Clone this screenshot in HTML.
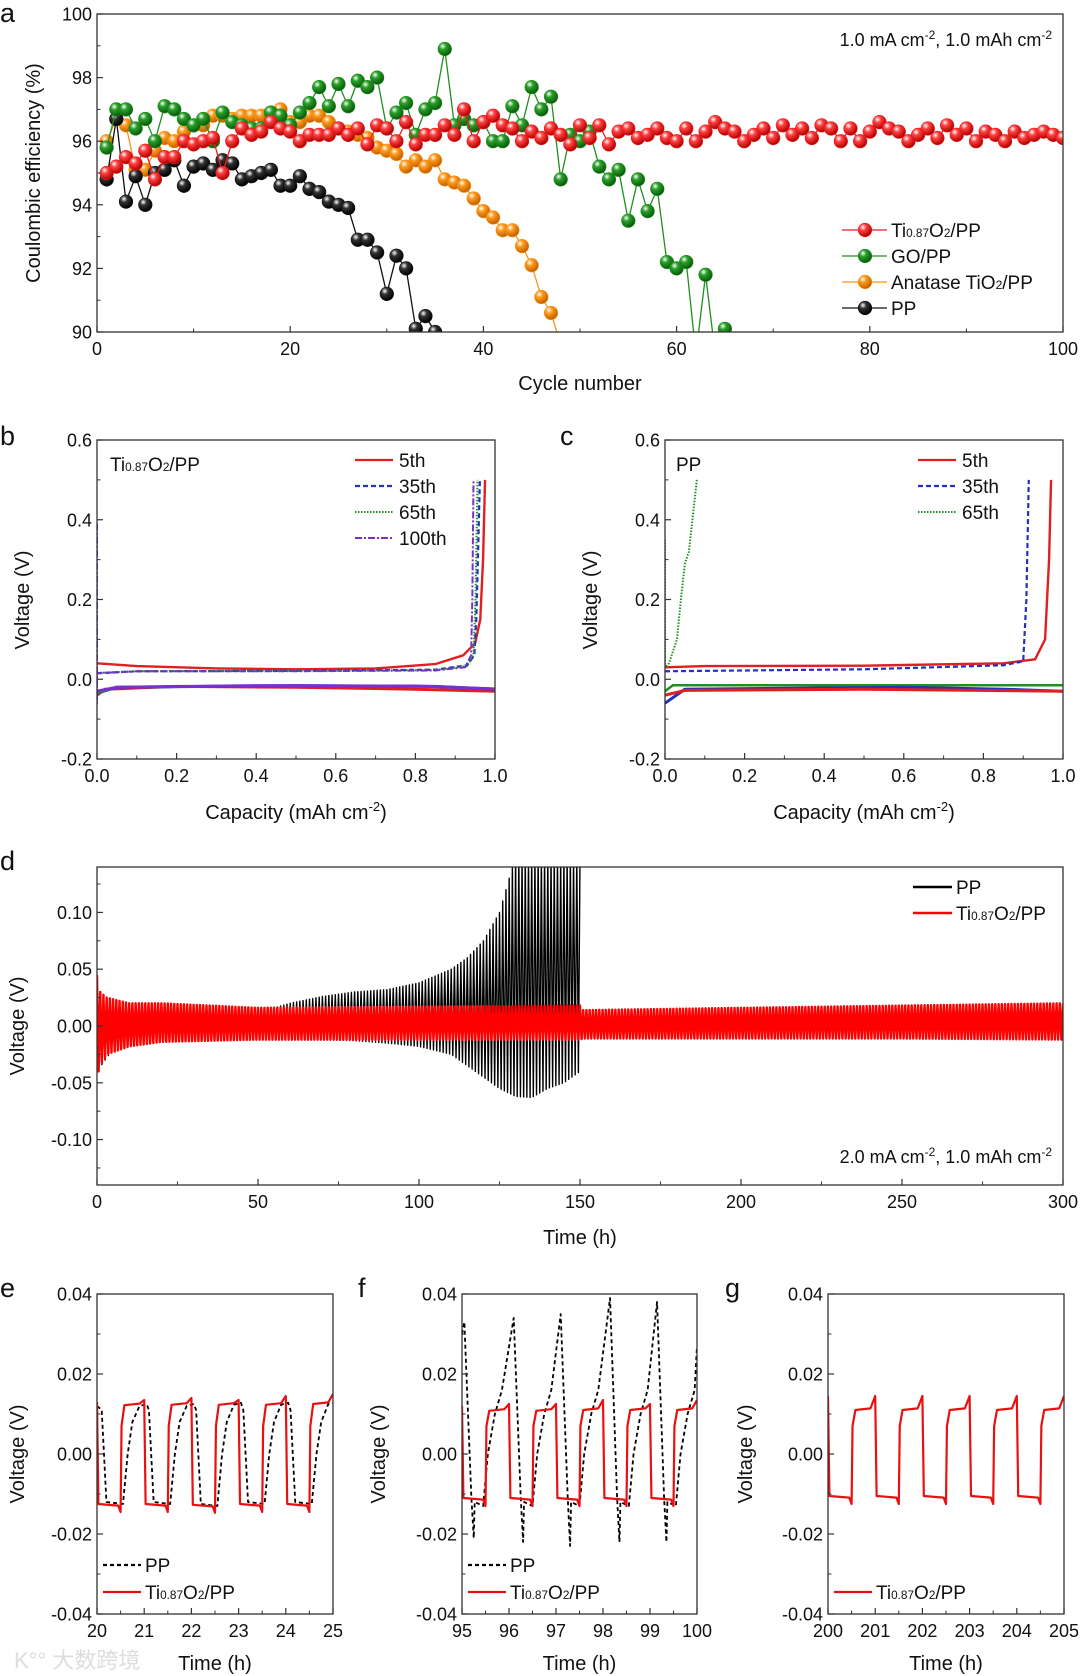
<!DOCTYPE html>
<html><head><meta charset="utf-8">
<style>
html,body{margin:0;padding:0;background:#fff;}
svg{display:block;font-family:"Liberation Sans",Arial,sans-serif;}
</style></head>
<body>
<svg id="fig" width="1080" height="1676" viewBox="0 0 1080 1676" xmlns="http://www.w3.org/2000/svg">
<defs>
<radialGradient id="gr" cx="35%" cy="30%" r="70%"><stop offset="0" stop-color="#fff"/><stop offset="0.35" stop-color="#ff4040"/><stop offset="1" stop-color="#b00000"/></radialGradient>
<radialGradient id="gg" cx="35%" cy="30%" r="70%"><stop offset="0" stop-color="#fff"/><stop offset="0.35" stop-color="#2aa02a"/><stop offset="1" stop-color="#0a5a0a"/></radialGradient>
<radialGradient id="go" cx="35%" cy="30%" r="70%"><stop offset="0" stop-color="#fff"/><stop offset="0.35" stop-color="#ff9a1a"/><stop offset="1" stop-color="#c06000"/></radialGradient>
<radialGradient id="gk" cx="35%" cy="30%" r="70%"><stop offset="0" stop-color="#fff"/><stop offset="0.35" stop-color="#333"/><stop offset="1" stop-color="#000"/></radialGradient>
</defs>
<text x="14" y="1668" font-size="22" fill="#ddd" font-family="'Liberation Sans','Noto Sans CJK SC',sans-serif">K°° 大数跨境</text>
</svg>
<script>
// ---------- Panel a data ----------
const cycles = Array.from({length:100},(_,i)=>i+1);
const ceTi = [95.0,95.2,95.5,95.3,95.7,94.8,95.5,95.5,96.0,95.9,96.0,96.1,95.0,96.0,96.4,96.2,96.3,96.6,96.4,96.3,96.0,96.2,96.2,96.2,96.4,96.2,96.4,95.9,96.5,96.4,96.0,96.6,95.9,96.2,96.2,96.5,96.2,97.0,96.0,96.6,96.8,96.5,96.4,96.0,96.3,96.1,96.4,96.2,95.9,96.5,96.1,96.5,95.9,96.3,96.4,96.1,96.2,96.4,96.1,96.0,96.4,96.0,96.3,96.6,96.4,96.3,96.0,96.2,96.4,96.1,96.5,96.2,96.4,96.1,96.5,96.4,96.0,96.4,96.0,96.3,96.6,96.4,96.3,96.0,96.2,96.4,96.1,96.5,96.2,96.4,96.0,96.3,96.2,96.0,96.3,96.1,96.2,96.3,96.2,96.1];
const ceGO = [95.8,97.0,97.0,96.4,96.7,96.0,97.1,97.0,96.7,96.5,96.7,96.0,96.9,96.6,96.5,96.4,96.4,96.9,96.8,96.5,96.9,97.2,97.7,97.1,97.8,97.1,97.9,97.7,98.0,96.4,96.9,97.2,96.2,97.0,97.2,98.9,96.5,96.7,96.5,96.6,96.0,96.0,97.1,96.5,97.7,97.0,97.4,94.8,96.2,96.0,96.3,95.2,94.8,95.1,93.5,94.8,93.8,94.5,92.2,92.0,92.2,89.3,91.8,89.3,90.1];
const ceAna = [96.0,96.7,96.5,95.1,95.1,95.7,96.1,96.0,96.3,96.5,96.5,96.8,96.8,96.7,96.8,96.8,96.8,96.9,97.0,96.6,96.6,96.8,96.8,96.6,96.4,96.3,96.2,96.1,95.8,95.7,95.6,95.2,95.4,95.2,95.4,94.8,94.7,94.6,94.2,93.8,93.6,93.2,93.2,92.7,92.1,91.1,90.6,89.6];
const cePP = [94.8,96.7,94.1,94.9,94.0,95.0,95.1,95.4,94.6,95.2,95.3,95.1,95.4,95.3,94.8,94.9,95.0,95.1,94.6,94.6,94.9,94.5,94.4,94.1,94.0,93.9,92.9,92.9,92.5,91.2,92.4,92.0,90.1,90.5,90.0,89.6];
const aXTicks = [0,20,40,60,80,100];
const aYTicks = [90,92,94,96,98,100];

// ---------- Panel b data (capacity, voltage) ----------
const b5Chg = [[0,0.04],[0.1,0.033],[0.3,0.027],[0.5,0.025],[0.7,0.027],[0.85,0.038],[0.92,0.06],[0.95,0.09],[0.963,0.15],[0.97,0.3],[0.975,0.5]];
const b5Dis = [[0,-0.04],[0.02,-0.025],[0.2,-0.018],[0.5,-0.02],[0.8,-0.025],[1.0,-0.03]];
const b35Chg = [[0,0.015],[0.1,0.02],[0.5,0.021],[0.85,0.024],[0.93,0.035],[0.948,0.06],[0.953,0.15],[0.957,0.3],[0.962,0.5]];
const b35Dis = [[0,-0.035],[0.05,-0.02],[0.5,-0.016],[0.85,-0.018],[1.0,-0.025]];
const b65Chg = [[0,0.016],[0.1,0.02],[0.5,0.021],[0.85,0.023],[0.93,0.033],[0.946,0.06],[0.951,0.2],[0.956,0.5]];
const b65Dis = [[0,-0.035],[0.05,-0.02],[0.5,-0.016],[0.85,-0.018],[1.0,-0.024]];
const b100Chg = [[0,0.39],[0,-0.06],[0,0.015],[0.1,0.02],[0.5,0.02],[0.85,0.022],[0.925,0.03],[0.94,0.06],[0.943,0.2],[0.946,0.5]];
const b100Dis = [[0,-0.03],[0.05,-0.02],[0.4,-0.016],[0.8,-0.017],[1.0,-0.024]];
const bcXTicks = [0,0.2,0.4,0.6,0.8,1.0];
const bcYTicks = [-0.2,0,0.2,0.4,0.6];

// ---------- Panel c data ----------
const c5Chg = [[0,0.03],[0.1,0.033],[0.5,0.034],[0.85,0.04],[0.93,0.05],[0.955,0.1],[0.965,0.3],[0.97,0.5]];
const c5Dis = [[0,-0.04],[0.05,-0.028],[0.5,-0.025],[1,-0.03]];
const c35Chg = [[0,0.02],[0.5,0.025],[0.85,0.035],[0.9,0.045],[0.908,0.2],[0.914,0.5]];
const c35Dis = [[0,-0.06],[0.05,-0.025],[0.6,-0.02],[0.85,-0.025],[1,-0.03]];
const c65Chg = [[0,0.35],[0,0.03],[0.01,0.04],[0.03,0.1],[0.04,0.2],[0.05,0.29],[0.06,0.32],[0.07,0.41],[0.08,0.5]];
const c65Dis = [[0,-0.03],[0.02,-0.015],[1,-0.015]];

// ---------- Panel d envelopes ----------
const dPPTime = [0,5,10,20,30,40,50,55,60,70,80,90,100,110,115,120,125,130,135,140,145,150];
const dPPUpper = [0.03,0.02,0.015,0.014,0.014,0.014,0.015,0.016,0.02,0.026,0.03,0.032,0.038,0.05,0.06,0.075,0.1,0.15,0.15,0.15,0.15,0.15];
const dPPLower = [-0.04,-0.02,-0.015,-0.013,-0.012,-0.011,-0.011,-0.011,-0.011,-0.012,-0.013,-0.015,-0.018,-0.025,-0.035,-0.045,-0.055,-0.062,-0.063,-0.055,-0.05,-0.04];
const dTiTime = [0,1,3,10,20,50,100,150,151,200,250,300];
const dTiUpper = [0.045,0.03,0.025,0.02,0.02,0.016,0.017,0.018,0.014,0.016,0.018,0.02];
const dTiLower = [-0.045,-0.035,-0.025,-0.018,-0.014,-0.012,-0.012,-0.012,-0.011,-0.011,-0.011,-0.012];
const dXTicks = [0,50,100,150,200,250,300];
const dYTicks = [-0.10,-0.05,0,0.05,0.10];

// ---------- Panels e, f, g ----------
const eStarts = [20,21,22,23,24];
const eRedLow = [-0.0125,-0.0125,-0.0127,-0.0125,-0.0125];
const eRedHigh = [0.0122,0.0123,0.0123,0.0123,0.0125];
const eRedPeak = [0.0135,0.014,0.0135,0.0145,0.015];
const ePPLow = [-0.012,-0.012,-0.0125,-0.012,-0.012];
const ePPHigh = [0.0125,0.0125,0.0128,0.0128,0.013];
const eXTicks = [20,21,22,23,24,25];
const fStarts = [95,96,97,98,99];
const fRedLow = [-0.011,-0.011,-0.011,-0.011,-0.011];
const fRedHigh = [0.0108,0.0108,0.011,0.011,0.011];
const fRedPeak = [0.0125,0.0125,0.0135,0.0125,0.0135];
const fPPPeakT = [95.05,96.1,97.1,98.15,99.15];
const fPPPeak = [0.033,0.034,0.035,0.039,0.038];
const fPPSpike = [-0.021,-0.022,-0.023,-0.022,-0.022];
const fXTicks = [95,96,97,98,99,100];
const gStarts = [200,201,202,203,204];
const gRedLow = [-0.0105,-0.0105,-0.0105,-0.0105,-0.0105];
const gRedHigh = [0.011,0.011,0.011,0.011,0.011];
const gRedPeak = [0.0145,0.0145,0.0145,0.0145,0.0145];
const gXTicks = [200,201,202,203,204,205];
const efgYTicks = [-0.04,-0.02,0,0.02,0.04];

// ---------- helpers ----------
const NS = "http://www.w3.org/2000/svg";
const svg = document.getElementById('fig');
function mk(tag, attrs, parent){const e=document.createElementNS(NS,tag);for(const k in attrs)e.setAttribute(k,attrs[k]);(parent||svg).appendChild(e);return e;}
function txt(s, x, y, size, anchor, parent){const t=mk('text',{x:x,y:y,'font-size':size,'text-anchor':anchor||'start',fill:'#111'},parent);t.textContent=s;return t;}
function tiLabel(x,y,size,parent,anchor){
  const t=mk('text',{x:x,y:y,'font-size':size,fill:'#111','text-anchor':anchor||'start'},parent);
  const parts=[['Ti',size],['0.87',size*0.62],['O',size],['2',size*0.62],['/PP',size]];
  parts.forEach(p=>{const s=mk('tspan',{'font-size':p[1]},t);s.textContent=p[0];});
  return t;
}
function makePanel(name,x0,x1,y0,y1,xmin,xmax,ymin,ymax){
  const g=mk('g',{});
  
  
  const sx=v=>x0+(v-xmin)/(xmax-xmin)*(x1-x0);
  const sy=v=>y1-(v-ymin)/(ymax-ymin)*(y1-y0);
  const cid='clip-'+name;
  const cp=mk('clipPath',{id:cid},g);mk('rect',{x:x0,y:y0,width:x1-x0,height:y1-y0},cp);
  const plot=mk('g',{'clip-path':'url(#'+cid+')'},g);
  
  
  return {g,plot,sx,sy,x0,x1,y0,y1};
}
function axes(P,xt,xminor,yt,yminor,xfmt,yfmt,fs){
  const g=mk('g',{},P.g);
  
  
  mk('rect',{x:P.x0,y:P.y0,width:P.x1-P.x0,height:P.y1-P.y0,fill:'none',stroke:'#333','stroke-width':1.3},g);
  xt.forEach(v=>{const x=P.sx(v);mk('line',{x1:x,x2:x,y1:P.y1,y2:P.y1-6,stroke:'#333','stroke-width':1.2},g);
    const t=txt(xfmt(v),x,P.y1+23,fs,'middle',g);});
  xminor.forEach(v=>{const x=P.sx(v);mk('line',{x1:x,x2:x,y1:P.y1,y2:P.y1-3.5,stroke:'#333','stroke-width':1},g);});
  yt.forEach(v=>{const y=P.sy(v);mk('line',{x1:P.x0,x2:P.x0+6,y1:y,y2:y,stroke:'#333','stroke-width':1.2},g);
    const t=txt(yfmt(v),P.x0-5,y+6.5,fs,'end',g);});
  yminor.forEach(v=>{const y=P.sy(v);mk('line',{x1:P.x0,x2:P.x0+3.5,y1:y,y2:y,stroke:'#333','stroke-width':1},g);});
}
function range(a,b,s){const r=[];for(let v=a;v<=b+1e-9;v+=s)r.push(+v.toFixed(6));return r;}
function pathOf(P,pts){return pts.map((p,i)=>(i?'L':'M')+P.sx(p[0]).toFixed(2)+' '+P.sy(p[1]).toFixed(2)).join(' ');}
function line(P,pts,color,w,dash,name){const e=mk('path',{d:pathOf(P,pts),fill:'none',stroke:color,'stroke-width':w,'stroke-linejoin':'round'},P.plot);if(dash)e.setAttribute('stroke-dasharray',dash);
  
  
  return e;}
function yTitle(s,x,y,parent){const t=mk('text',{x:0,y:0,'font-size':20,'text-anchor':'middle',fill:'#111',transform:`translate(${x},${y}) rotate(-90)`},parent);t.textContent=s;
  return t;}
function xTitle(s,x,y,parent,sup){const t=mk('text',{x:x,y:y,'font-size':20,'text-anchor':'middle',fill:'#111'},parent);
  
  if(sup){const a=mk('tspan',{},t);a.textContent=s;const b=mk('tspan',{'font-size':13,dy:-8},t);b.textContent='-2';const c=mk('tspan',{dy:8},t);c.textContent=')';}
  else t.textContent=s;return t;}
function letter(s,x,y){const t=txt(s,x,y,27,'start');}
function annot(x,y,parent,a){const t=mk('text',{x:x,y:y,'font-size':18,'text-anchor':'end',fill:'#111'},parent);
  const seg=[[a+' mA cm',0],['-2',-7],[', 1.0 mAh cm',7],['-2',-7]];
  seg.forEach(s=>{const sp=mk('tspan',{dy:s[1]},t);if(s[0]==='-2')sp.setAttribute('font-size',12);sp.textContent=s[0];});
  }

// ---------- Panel a ----------
(function(){
  const P=makePanel('panel-a-coulombic-efficiency',97,1063,14,332,0,100,90,100);
  const series=[[ceAna,'#f7941d','url(#go)','anatase'],[cePP,'#111','url(#gk)','pp'],[ceGO,'#1f8f1f','url(#gg)','go'],[ceTi,'#ee1c1c','url(#gr)','ti087o2']];
  series.forEach(s=>{
    const pts=s[0].map((v,i)=>[cycles[i],v]);
    line(P,pts,s[1],1.3,null,'series-line-'+s[3]);
    pts.forEach(p=>{const c=mk('circle',{cx:P.sx(p[0]),cy:P.sy(p[1]),r:6.8,fill:s[2],stroke:s[1],'stroke-width':0.6},P.plot);
      
      });
  });
  axes(P,aXTicks,range(10,90,20),aYTicks,range(91,99,2),v=>String(v),v=>String(v),18);
  xTitle('Cycle number',580,390,P.g);
  yTitle('Coulombic efficiency (%)',40,173,P.g);
  annot(1052,46,P.g,'1.0');
  const leg=[['ti','#ee1c1c','url(#gr)'],['GO/PP','#1f8f1f','url(#gg)'],['Anatase TiO2','#f7941d','url(#go)'],['PP','#111','url(#gk)']];
  leg.forEach((l,i)=>{const y=230+i*26;const lg=mk('g',{},P.g);
    
    
    mk('line',{x1:842,x2:887,y1:y,y2:y,stroke:l[1],'stroke-width':1.3},lg);
    mk('circle',{cx:865,cy:y,r:6.8,fill:l[2],stroke:l[1],'stroke-width':0.6},lg);
    if(l[0]==='ti')tiLabel(891,y+7,19,lg);
    else if(l[0]==='Anatase TiO2'){const t=mk('text',{x:891,y:y+7,'font-size':19,fill:'#111'},lg);const a=mk('tspan',{},t);a.textContent='Anatase TiO';const b=mk('tspan',{'font-size':12},t);b.textContent='2';const c=mk('tspan',{},t);c.textContent='/PP';}
    else txt(l[0],891,y+7,19,'start',lg);
  });
})();
letter('a',0,22);

// ---------- Panel b & c ----------
function vPanel(name,x0,x1,sets,lab,legItems,legX){
  const P=makePanel(name,x0,x1,440,759,0,1,-0.2,0.6);
  sets.forEach(s=>line(P,s[0],s[1],s[2],s[3],s[4]));
  axes(P,bcXTicks,range(0.1,0.9,0.2),bcYTicks,range(-0.1,0.5,0.2),v=>v.toFixed(1),v=>v.toFixed(1),18);
  xTitle('Capacity (mAh cm',(x0+x1)/2,819,P.g,true);
  yTitle('Voltage (V)',x0-68,600,P.g);
  const l=lab==='ti'?tiLabel(x0+13,471,19,P.g):txt(lab,x0+11,471,19,'start',P.g);
  
  legItems.forEach((it,i)=>{const y=460+i*26;const lg=mk('g',{},P.g);
    
    
    const ln=mk('line',{x1:legX,x2:legX+38,y1:y,y2:y,stroke:it[1],'stroke-width':it[3]||2.2},lg);
    if(it[2])ln.setAttribute('stroke-dasharray',it[2]);
    txt(it[0],legX+44,y+7,19,'start',lg);});
  return P;
}
vPanel('panel-b-voltage-profile-ti087o2',97,495,[
  [b5Dis,'#e02020',3,null,'discharge-5th'],[b35Dis,'#2233bb',3,null,'discharge-35th'],[b65Dis,'#1f8f1f',2.5,null,'discharge-65th'],[b100Dis,'#7a2fd0',3,null,'discharge-100th'],
  [b5Chg,'#e02020',2.4,null,'charge-5th'],[b35Chg,'#2233bb',2.2,'5 3','charge-35th'],[b65Chg,'#1f8f1f',2,'1.5 1.5','charge-65th'],[b100Chg,'#7a2fd0',2,'7 2 2 2','charge-100th']
],'ti',[['5th','#e02020',null],['35th','#2233bb','5 3'],['65th','#1f8f1f','1.5 1.5',2],['100th','#7a2fd0','7 2 2 2',2]],355);
vPanel('panel-c-voltage-profile-pp',665,1063,[
  [c65Dis,'#1f8f1f',2.5,null,'discharge-65th'],[c35Dis,'#2233bb',3,null,'discharge-35th'],[c5Dis,'#e02020',3,null,'discharge-5th'],
  [c5Chg,'#e02020',2.4,null,'charge-5th'],[c35Chg,'#2233bb',2.2,'5 3','charge-35th'],[c65Chg,'#1f8f1f',2,'1.5 1.5','charge-65th']
],'PP',[['5th','#e02020',null],['35th','#2233bb','5 3'],['65th','#1f8f1f','1.5 1.5',2]],918);
letter('b',0,445);
letter('c',560,445);

// ---------- Panel d ----------
function interp(ts,vs,t){if(t<=ts[0])return vs[0];for(let i=1;i<ts.length;i++){if(t<=ts[i]){const f=(t-ts[i-1])/(ts[i]-ts[i-1]);return vs[i-1]+f*(vs[i]-vs[i-1]);}}return vs[vs.length-1];}
function zigzag(ts,up,lo,tEnd){const pts=[];for(let t=ts[0];t<=tEnd;t+=1){pts.push([t,interp(ts,up,t)]);if(t+0.5<=tEnd)pts.push([t+0.5,interp(ts,lo,t+0.5)]);}return pts;}
(function(){
  const P=makePanel('panel-d-long-term-cycling',97,1063,867,1185,0,300,-0.14,0.14);
  line(P,zigzag(dPPTime,dPPUpper,dPPLower,150),'#000',1.4,null,'series-pp');
  line(P,zigzag(dTiTime,dTiUpper,dTiLower,300),'#ff0000',2.4,null,'series-ti087o2');
  axes(P,dXTicks,range(25,275,50),dYTicks,range(-0.125,0.125,0.05),v=>String(v),v=>v.toFixed(2),18);
  xTitle('Time (h)',580,1244,P.g);
  yTitle('Voltage (V)',24,1026,P.g);
  annot(1052,1163,P.g,'2.0');
  [['PP','#000'],['ti','#ff0000']].forEach((l,i)=>{const y=887+i*26;const lg=mk('g',{},P.g);
    
    
    mk('line',{x1:913,x2:952,y1:y,y2:y,stroke:l[1],'stroke-width':2.5},lg);
    if(l[0]==='ti')tiLabel(956,y+7,19,lg);else txt('PP',956,y+7,19,'start',lg);});
})();
letter('d',0,870);

// ---------- Panels e, f, g ----------
function redWave(starts,low,high,peak,first){const pts=[[starts[0],first]];
  starts.forEach((s,i)=>{pts.push([s+0.03,low[i]],[s+0.45,low[i]-0.0004],[s+0.5,low[i]-0.002],[s+0.52,0.007],[s+0.58,high[i]],[s+0.9,high[i]+0.0004],[s+1.0,peak[i]]);});
  return pts;}
function ppWaveE(starts,low,high){const pts=[[starts[0],0.012]];
  starts.forEach((s,i)=>{pts.push([s+0.1,0.011],[s+0.2,low[i]],[s+0.55,low[i]-0.0005],[s+0.65,0],[s+0.75,0.008],[s+0.9,high[i]-0.0005],[s+1.05,high[i]]);});
  return pts;}
function ppWaveF(){const pts=[[95,0.03]];
  fPPPeakT.forEach((T,i)=>{pts.push([T,fPPPeak[i]],[T+0.15,-0.011],[T+0.2,fPPSpike[i]],[T+0.22,-0.012],[T+0.4,-0.013],[T+0.5,0],[T+0.65,0.01],[T+0.8,0.016]);});
  pts.push([100,0.027]);return pts;}
function smallPanel(name,x0,x1,xmin,xmax,xt,series,legend,yx){
  const P=makePanel(name,x0,x1,1294,1614,xmin,xmax,-0.04,0.04);
  series.forEach(s=>line(P,s[0],s[1],s[2],s[3],s[4]));
  axes(P,xt,range(xmin+0.5,xmax-0.5,1),efgYTicks,range(-0.03,0.03,0.02),v=>String(v),v=>v.toFixed(2),18);
  xTitle('Time (h)',(x0+x1)/2,1670,P.g);
  yTitle('Voltage (V)',yx,1454,P.g);
  legend.forEach((l,i)=>{const y=legend.length===1?1592:1565+i*27;const lg=mk('g',{},P.g);
    
    
    const ln=mk('line',{x1:x0+6,x2:x0+44,y1:y,y2:y,stroke:l[1],'stroke-width':2.2},lg);
    if(l[2])ln.setAttribute('stroke-dasharray',l[2]);
    if(l[0]==='ti')tiLabel(x0+48,y+7,19,lg);else txt('PP',x0+48,y+7,19,'start',lg);});
}
smallPanel('panel-e-voltage-20-25h',97,333,20,25,eXTicks,[
  [ppWaveE(eStarts,ePPLow,ePPHigh),'#000',1.8,'4 3','series-pp'],
  [redWave(eStarts,eRedLow,eRedHigh,eRedPeak,0.013),'#e81010',2.2,null,'series-ti087o2']
],[['PP','#000','4 3'],['ti','#e81010']],24);
smallPanel('panel-f-voltage-95-100h',462,697,95,100,fXTicks,[
  [ppWaveF(),'#000',1.8,'4 3','series-pp'],
  [redWave(fStarts,fRedLow,fRedHigh,fRedPeak,0.012),'#e81010',2.2,null,'series-ti087o2']
],[['PP','#000','4 3'],['ti','#e81010']],385);
smallPanel('panel-g-voltage-200-205h',828,1064,200,205,gXTicks,[
  [redWave(gStarts,gRedLow,gRedHigh,gRedPeak,0.0145),'#e81010',2.2,null,'series-ti087o2']
],[['ti','#e81010']],752);
letter('e',0,1297);
letter('f',358,1297);
letter('g',725,1297);
</script>
</body></html>
